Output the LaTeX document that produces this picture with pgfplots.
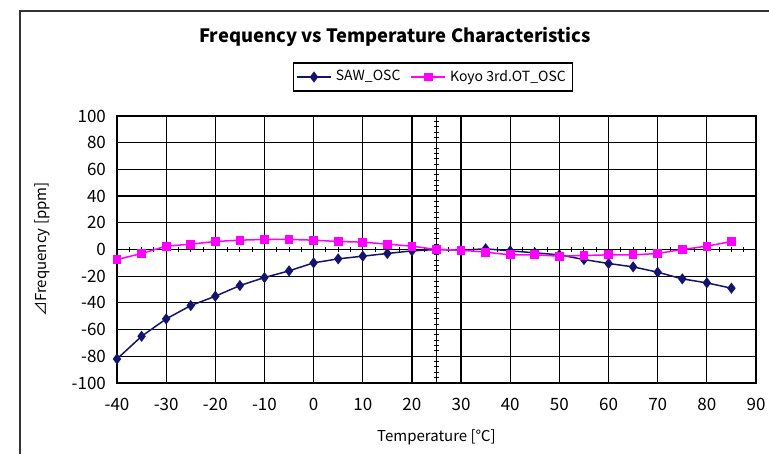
\documentclass[border=0pt]{standalone}
\usepackage{pgfplots}
\pgfplotsset{compat=1.18}
\usepackage{fontspec}
\setmainfont{Noto Sans CJK JP}

\definecolor{sawblue}{RGB}{20,20,110}
\definecolor{koyo}{RGB}{255,0,255}

\pgfplotstableread{
t saw koyo
-40 -82 -7.5
-35 -65 -3
-30 -52 2.5
-25 -42 4
-20 -35 6
-15 -27 7
-10 -21 7.5
-5 -16 7.5
0 -10 7
5 -7 6
10 -5 5.5
15 -3 4
20 -1 2.5
25 0 0
30 -0.5 -0.5
35 0.5 -2
40 -1 -4
45 -2.5 -4
50 -4 -5
55 -7.5 -4.5
60 -10.5 -4
65 -13 -4
70 -17 -3
75 -22 0
80 -25 2.5
85 -29 6
}\tempdata

\begin{document}
\begin{tikzpicture}
\useasboundingbox (-58.5pt,-35.5pt) rectangle (326pt,191.5pt);
% outer chart frame (right and bottom edges are cut off in the original)
\draw[black!80, line width=0.8pt] (-48.5pt,-35.5pt) -- (-48.5pt,186pt) -- (326pt,186pt);

% small ticks on the axes through (25, 0)
\begin{axis}[
at={(0,0)}, anchor=south west,
scale only axis, width=319.5pt, height=133.5pt,
xmin=-65, xmax=65, ymin=-100, ymax=100,
axis lines=middle,
axis line style={draw=none},
xtick={-65,-55,...,65}, ytick={-100,-80,...,100},
minor x tick num=3, minor y tick num=4,
xticklabels={}, yticklabels={},
tick align=center,
major tick length=3pt, minor tick length=2.5pt,
tick style={black, line width=0.5pt},
]
\end{axis}

\begin{axis}[
at={(0,0)}, anchor=south west,
scale only axis, width=319.5pt, height=133.5pt,
xmin=-40, xmax=90, ymin=-100, ymax=100,
xtick={-40,-30,...,90}, ytick={-100,-80,...,100},
grid=major,
major grid style={black, line width=0.6pt},
axis line style={black, line width=0.8pt},
major tick length=0pt,
tick label style={font=\fontsize{8.5}{10}\selectfont, /pgf/number format/assume math mode=true},
xticklabel style={yshift=-4pt},
yticklabel style={xshift=-2pt},
title={Frequency vs Temperature Characteristics},
title style={at={(axis description cs:0.435,1.25)}, anchor=center, font=\fontsize{9.2}{11}\selectfont\bfseries},
xlabel={Temperature [℃]},
xlabel style={at={(axis description cs:0.5,-0.202)}, anchor=center, font=\fontsize{7.5}{9}\selectfont},
ylabel={⊿Frequency [ppm]},
ylabel style={at={(axis description cs:-0.117,0.5)}, anchor=center, rotate=0, font=\fontsize{7.5}{9}\selectfont},
legend style={at={(axis description cs:0.4945,1.146)}, anchor=center, draw=black, line width=0.6pt,
  font=\fontsize{7}{8}\selectfont, legend columns=2, inner sep=1.5pt,
  /tikz/every even column/.append style={column sep=3pt}},
legend cell align=left,
]
\draw[black, line width=0.9pt] (axis cs:25,-100) -- (axis cs:25,100);
\draw[black, line width=0.9pt] (axis cs:-40,0) -- (axis cs:90,0);
\addplot[sawblue, line width=0.75pt, mark=diamond*, mark size=2.2pt, mark options={fill=sawblue}] table[x=t, y=saw] {\tempdata};
\addlegendentry{SAW\_OSC}
\addplot[koyo, line width=0.75pt, mark=square*, mark size=1.8pt, mark options={fill=koyo}] table[x=t, y=koyo] {\tempdata};
\addlegendentry{Koyo 3rd.OT\_OSC}
\end{axis}
\end{tikzpicture}
\end{document}
